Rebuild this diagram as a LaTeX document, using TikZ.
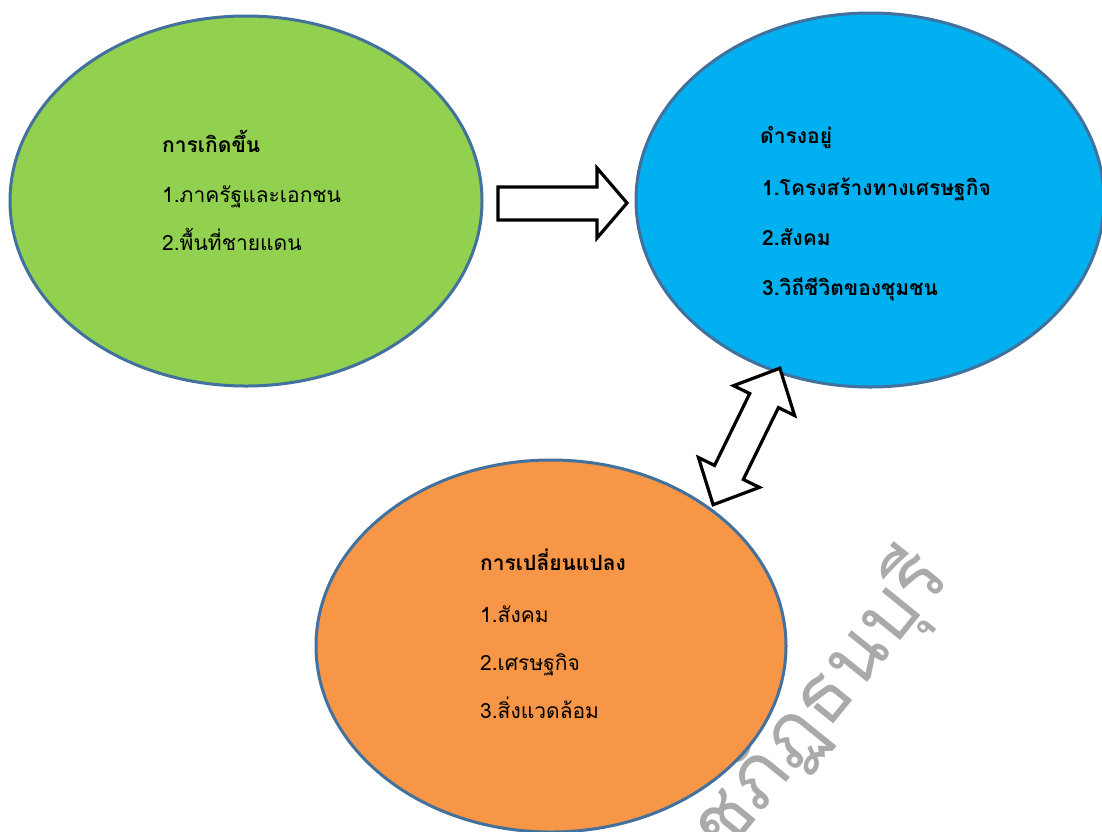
\documentclass[tikz,border=0pt]{standalone}
\usepackage{fontspec}
\newfontfamily\thai[Script=Thai]{Loma}
\usetikzlibrary{shapes.geometric}
\definecolor{outl}{RGB}{65,113,156}
\definecolor{gfill}{RGB}{146,208,80}
\definecolor{bfill}{RGB}{0,176,240}
\definecolor{ofill}{RGB}{247,150,70}
\definecolor{wm}{RGB}{170,170,170}
\begin{document}
\begin{tikzpicture}[x=1pt,y=-1pt,
  bubble/.style={ellipse, draw=outl, line width=3pt, inner sep=0pt},
  title/.style={font=\thai\bfseries\fontsize{21}{25}\selectfont, anchor=base west, inner sep=0pt},
  item/.style={font=\thai\fontsize{21}{25}\selectfont, anchor=base west, inner sep=0pt},
  bitem/.style={font=\thai\bfseries\fontsize{21}{25}\selectfont, anchor=base west, inner sep=0pt},
  blockarrow/.style={draw=black, fill=white, line width=3.2pt, miter limit=10}]
\useasboundingbox (0,0) rectangle (1102,831);
\clip (0,0) rectangle (1102,831);
\fill[white] (0,0) rectangle (1102,831);
% watermark
\node[font=\thai\fontsize{80}{86}\selectfont, text=wm, rotate=51, anchor=base east, inner sep=0pt] (wmk) at (952,578) {มหาวิทยาลัยราชภัฏธนบุรี};
% bubbles
\node[bubble, fill=gfill, minimum width=472, minimum height=370] (g) at (246,201) {};
\node[bubble, fill=bfill, minimum width=468, minimum height=374] (b) at (870,200) {};
\node[bubble, fill=ofill, minimum width=470, minimum height=372] (o) at (551,646) {};
% texts
\node[title] (g0) at (162,152) {การเกิดขึ้น};
\node[item] (g1) at (162,202) {1.ภาครัฐและเอกชน};
\node[item] (g2) at (162,250) {2.พื้นที่ชายแดน};
\node[title] (b0) at (760,143) {ดำรงอยู่};
\node[bitem] (b1) at (762,195) {1.โครงสร้างทางเศรษฐกิจ};
\node[bitem] (b2) at (762,245) {2.สังคม};
\node[bitem] (b3) at (762,295) {3.วิถีชีวิตของชุมชน};
\node[title] (o0) at (480,570) {การเปลี่ยนแปลง};
\node[item] (o1) at (480,622) {1.สังคม};
\node[item] (o2) at (480,670) {2.เศรษฐกิจ};
\node[item] (o3) at (480,718) {3.สิ่งแวดล้อม};
% right block arrow
\draw[blockarrow] (498,187) -- (597,187) -- (597,168) -- (627,203) -- (597,238) -- (597,220) -- (498,220) -- cycle;
% double block arrow
\begin{scope}[shift={(746.5,436.5)}, x={(0.439pt,0.898pt)}, y={(0.898pt,-0.439pt)}]
\draw[blockarrow] (76,0) -- (40,34) -- (40,16) -- (-40,16) -- (-40,34) -- (-76,0) -- (-40,-34) -- (-40,-16) -- (40,-16) -- (40,-34) -- cycle;
\end{scope}
\end{tikzpicture}
\end{document}
